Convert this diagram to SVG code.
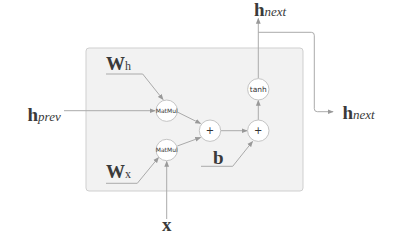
<svg xmlns="http://www.w3.org/2000/svg" width="396" height="248" viewBox="0 0 396 248">
<style>
.lbl{font-family:"Liberation Serif","DejaVu Serif",serif;fill:#3a3a3a;font-weight:bold;font-size:19px}
.sub{font-family:"Liberation Serif","DejaVu Serif",serif;font-weight:normal;font-style:italic;font-size:13px}
.subr{font-family:"Liberation Serif","DejaVu Serif",serif;font-weight:normal;font-size:12px}
.node{fill:#fff;stroke:#c4c4c4;stroke-width:1}
.op{font-family:"DejaVu Sans","Liberation Sans",sans-serif;fill:#333;text-anchor:middle}
.e{fill:none;stroke:#aaa;stroke-width:1}
</style>
<defs>
<marker id="ah" viewBox="0 0 8 8" refX="7" refY="4" markerWidth="6" markerHeight="6" orient="auto" markerUnits="userSpaceOnUse">
<path d="M0,0.8 L8,4 L0,7.2 z" fill="#999"/>
</marker>
</defs>
<rect id="cell" x="86" y="48" width="217" height="143" rx="3" fill="#f2f2f2" stroke="#cfcfcf" stroke-width="1"/>
<g id="connectors">
<path class="e" d="M64,110.7 H155" marker-end="url(#ah)"/>
<path class="e" d="M106,74 H142.7 L163,99.5" marker-end="url(#ah)"/>
<path class="e" d="M106,183.3 H137.3 L158.5,157.5" marker-end="url(#ah)"/>
<path class="e" d="M166.7,219 V161.5" marker-end="url(#ah)"/>
<path class="e" d="M177.3,112 L200.5,123.5" marker-end="url(#ah)"/>
<path class="e" d="M177.3,146 L200.5,137.5" marker-end="url(#ah)"/>
<path class="e" d="M221,130.7 H247" marker-end="url(#ah)"/>
<path class="e" d="M201,166.3 H232.7 L252.5,141.5" marker-end="url(#ah)"/>
<path class="e" d="M258.3,120 V100.5" marker-end="url(#ah)"/>
<path class="e" d="M258.3,78.5 V18.5" marker-end="url(#ah)"/>
<path class="e" d="M258.3,32.3 H311.3 Q314.3,32.3 314.3,35.3 V108.7 Q314.3,111.7 317.3,111.7 H333" marker-end="url(#ah)"/>
</g>
<g id="matmul_h"><circle class="node" cx="166.7" cy="110.7" r="10.7"/><text class="op" x="166.7" y="112.8" font-size="6">MatMul</text></g>
<g id="matmul_x"><circle class="node" cx="166.7" cy="150" r="10.7"/><text class="op" x="166.7" y="152.1" font-size="6">MatMul</text></g>
<g id="add1"><circle class="node" cx="210" cy="130.7" r="10.7"/><text class="op" x="210" y="134.2" font-size="10">+</text></g>
<g id="add2"><circle class="node" cx="258.3" cy="130.7" r="10.7"/><text class="op" x="258.3" y="134.2" font-size="10">+</text></g>
<g id="tanh"><circle class="node" cx="258.3" cy="89.3" r="10.7"/><text class="op" x="258.3" y="92" font-size="7.5">tanh</text></g>
<g id="h_prev"><text class="lbl" x="27.5" y="120.5">h<tspan class="sub">prev</tspan></text></g>
<g id="W_h"><text class="lbl" x="106" y="70">W<tspan class="subr">h</tspan></text></g>
<g id="W_x"><text class="lbl" x="106" y="178.3">W<tspan class="subr">x</tspan></text></g>
<g id="x"><text class="lbl" x="166.7" y="231" text-anchor="middle">x</text></g>
<g id="b"><text class="lbl" x="213" y="164">b</text></g>
<g id="h_next_top"><text class="lbl" x="254" y="16">h<tspan class="sub">next</tspan></text></g>
<g id="h_next_right"><text class="lbl" x="342.5" y="118.5">h<tspan class="sub">next</tspan></text></g>
</svg>
